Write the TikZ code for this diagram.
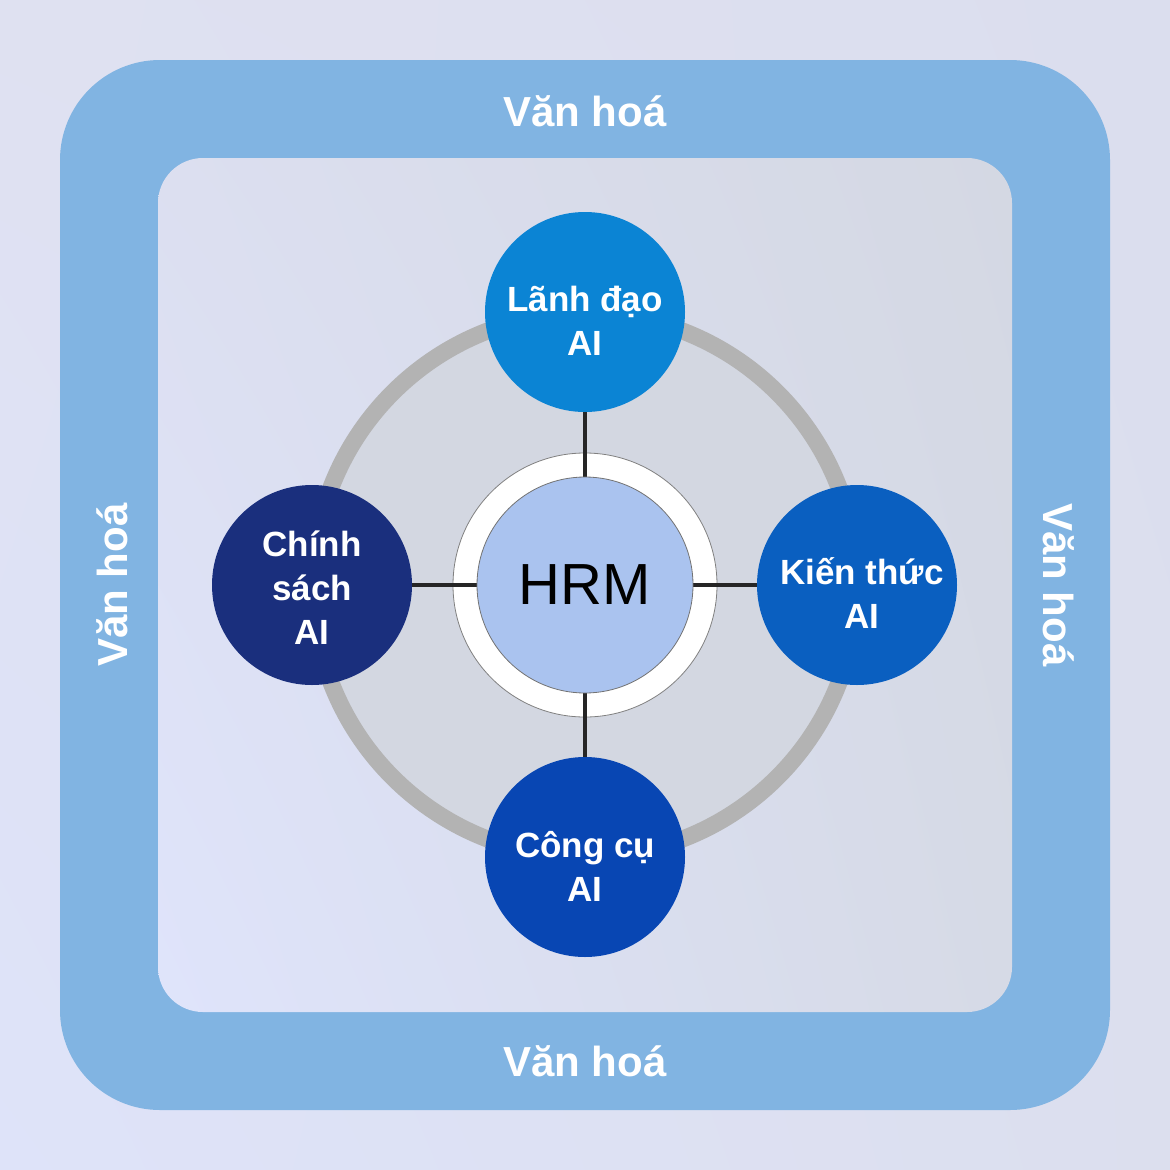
\documentclass[tikz,border=0pt]{standalone}
\usepackage{fontspec}
\setmainfont{Liberation Sans}
\usetikzlibrary{backgrounds,shadings}
\pgfdeclarelayer{bglayer}
\pgfdeclarelayer{lineslayer}
\pgfsetlayers{bglayer,lineslayer,main}
\definecolor{bandblue}{HTML}{81B4E2}
\definecolor{ringgrey}{HTML}{B3B3B3}
\definecolor{ringfill}{HTML}{D3D7E1}
\definecolor{hrmfill}{HTML}{AAC3EF}
\definecolor{ctop}{HTML}{0B84D4}
\definecolor{cleft}{HTML}{1A2F7D}
\definecolor{cright}{HTML}{0A5FC0}
\definecolor{cbottom}{HTML}{0846B3}
\definecolor{bgul}{HTML}{DFE1F1}
\definecolor{bgur}{HTML}{DBDEEE}
\definecolor{bgll}{HTML}{DEE3F9}
\definecolor{bglr}{HTML}{DCDFEE}
\definecolor{inul}{HTML}{DCDFF0}
\definecolor{inur}{HTML}{D4D8E3}
\definecolor{inll}{HTML}{DFE4FB}
\definecolor{inlr}{HTML}{D6DAE6}
\tikzset{
  band/.style={font=\bfseries\fontsize{42}{46}\selectfont, text=white, inner sep=0pt},
  sat/.style={circle, minimum size=200pt, inner sep=0pt},
  sattext/.style={text=white, align=center, inner sep=0pt,
    font=\bfseries\fontsize{35}{44}\selectfont},
  conn/.style={line width=3.5pt, draw=black!85}
}
\begin{document}
\begin{tikzpicture}[x=1pt,y=-1pt]
\useasboundingbox (0,0) rectangle (1170,1170);
\begin{pgfonlayer}{bglayer}
\shade[upper left=bgul, upper right=bgur, lower left=bgll, lower right=bglr] (0,0) rectangle (1170,1170);
\fill[bandblue, rounded corners=100pt] (60,60) rectangle (1110,1110);
\shade[rounded corners=45pt, upper left=inul, upper right=inur, lower left=inll, lower right=inlr] (158,158) rectangle (1012,1012);
\draw[ringgrey, line width=17pt, fill=ringfill] (585,585) circle[radius=272];
\node[circle, minimum size=264pt, inner sep=0pt, fill=white, draw=black!50, line width=0.8pt] (hrmring) at (585,585) {};
\end{pgfonlayer}
\node[band] (vtop) at (585,111) {Văn hoá};
\node[band] (vbottom) at (585,1061) {Văn hoá};
\node[band, rotate=90] (vleft) at (112,585) {Văn hoá};
\node[band, rotate=-90] (vright) at (1059,585) {Văn hoá};
\node[circle, minimum size=216pt, inner sep=0pt, fill=hrmfill, draw=black!55, line width=0.8pt,
  font=\fontsize{58}{60}\selectfont] (hrm) at (585,585) {HRM};
\node[sat, fill=ctop] (top) at (585,312) {};
\node[sat, fill=cleft] (left) at (312,585) {};
\node[sat, fill=cright] (right) at (857,585) {};
\node[sat, fill=cbottom] (bottom) at (585,857) {};
\node[sattext] (toptext) at (585,321) {Lãnh đạo\\AI};
\node[sattext] (lefttext) at (312,588) {Chính\\sách\\AI};
\node[sattext] (righttext) at (862,593) {Kiến thức\\AI};
\node[sattext] (bottomtext) at (585,866) {Công cụ\\AI};
\begin{pgfonlayer}{lineslayer}
\draw[conn] (hrm) -- (top);
\draw[conn] (hrm) -- (left);
\draw[conn] (hrm) -- (right);
\draw[conn] (hrm) -- (bottom);
\end{pgfonlayer}
\end{tikzpicture}
\end{document}
